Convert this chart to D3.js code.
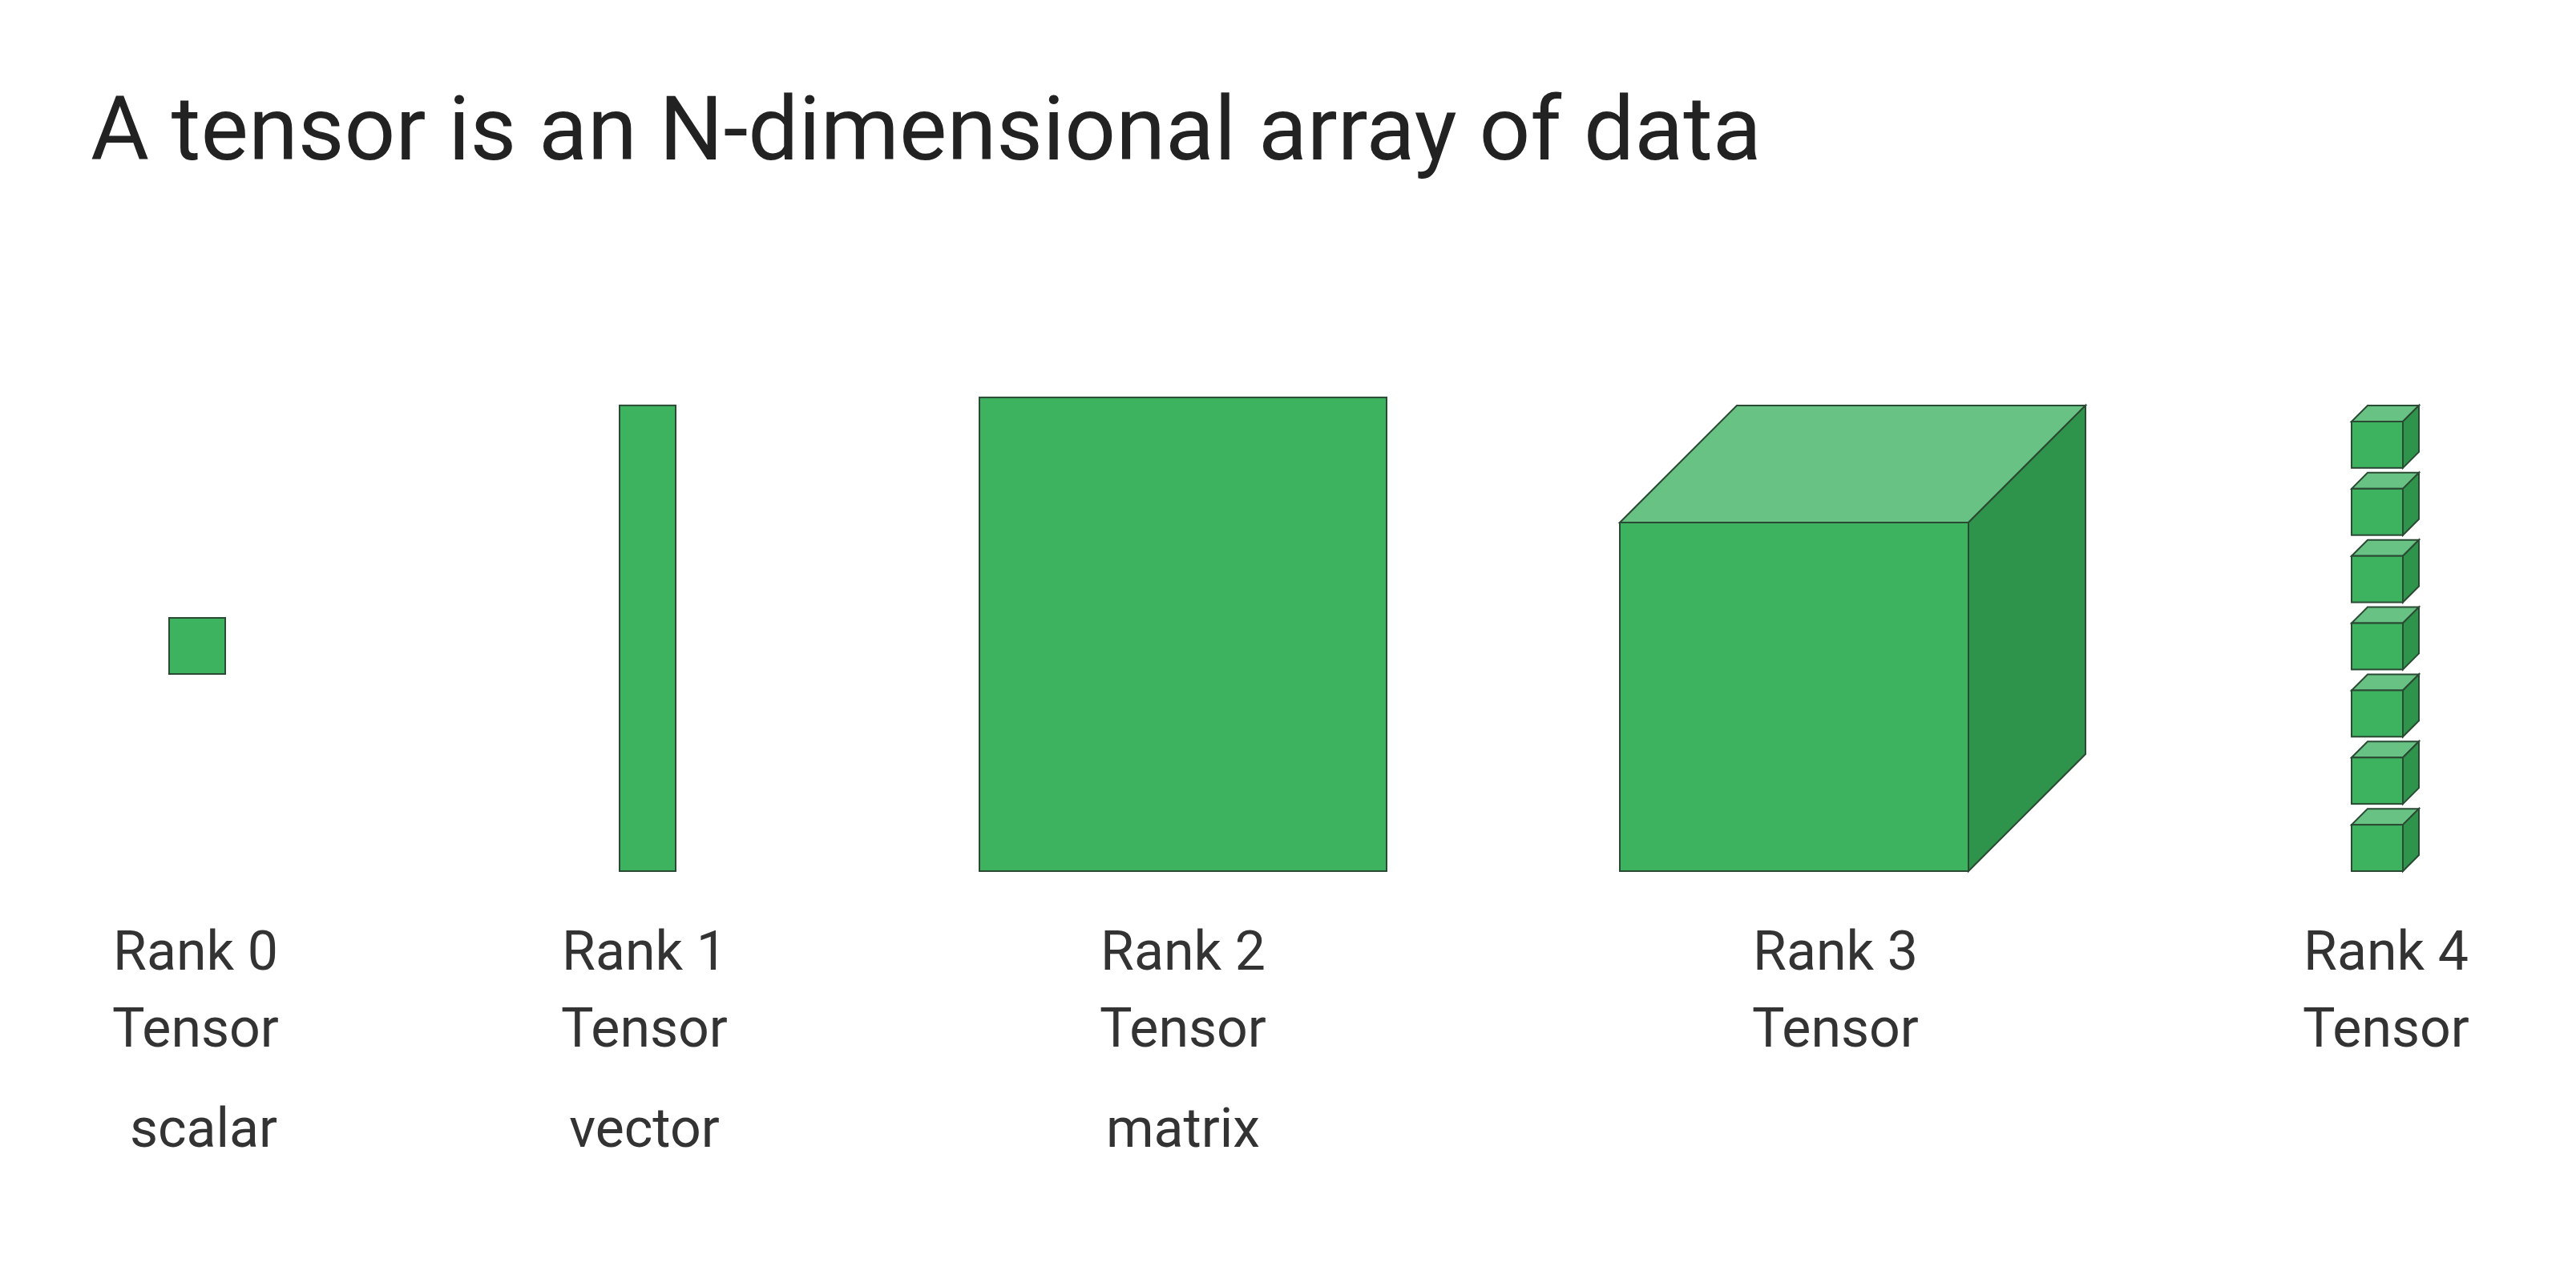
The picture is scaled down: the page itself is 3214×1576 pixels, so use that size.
<!DOCTYPE html>
<html><head><meta charset="utf-8">
<script src="https://cdn.jsdelivr.net/npm/d3@7"></script>
<style>body{margin:0;background:#fff}text{font-family:Roboto,"Open Sans",sans-serif}</style>
</head><body>
<script>
const title = "A tensor is an N-dimensional array of data";
const ranks = [0, 1, 2, 3, 4];
const rankNames = ["Rank 0", "Rank 1", "Rank 2", "Rank 3", "Rank 4"];
const aliases = ["scalar", "vector", "matrix", "", ""];
const stackCount = 7;

const W = 3214, H = 1576;
const green = "#3db360", light = "#67c284", dark = "#2f944b", edge = "#2b4a33";

const svg = d3.select("body").append("svg").attr("width", W).attr("height", H);

// column centres for each rank
const x = d3.scaleOrdinal().domain(ranks).range([244, 804, 1476, 2290, 2977]);
const y = d3.scaleLinear().domain([0, 1]).range([1087, 500]);

svg.append("text").attr("x", 113).attr("y", 199)
  .attr("font-size", 112).attr("fill", "#222").text(title);

const g = svg.append("g").attr("stroke", edge).attr("stroke-width", 2);

// rank 0 - scalar
g.append("rect").attr("x", 211).attr("y", 771).attr("width", 70).attr("height", 70).attr("fill", green);
// rank 1 - vector
g.append("rect").attr("x", 773).attr("y", y(0.99)).attr("width", 70).attr("height", y(0) - y(0.99)).attr("fill", green);
// rank 2 - matrix
g.append("rect").attr("x", 1222).attr("y", y(1.007)).attr("width", 508).attr("height", y(0) - y(1.007)).attr("fill", green);

function cube(x0, y0, w, h, d) {
  g.append("polygon").attr("fill", light)
    .attr("points", [[x0, y0], [x0 + d, y0 - d], [x0 + w + d, y0 - d], [x0 + w, y0]].join(" "));
  g.append("polygon").attr("fill", dark)
    .attr("points", [[x0 + w, y0], [x0 + w + d, y0 - d], [x0 + w + d, y0 + h - d], [x0 + w, y0 + h]].join(" "));
  g.append("rect").attr("x", x0).attr("y", y0).attr("width", w).attr("height", h).attr("fill", green);
}
// rank 3
cube(2021, 652, 435, 435, 146);
// rank 4 - stack of cubes
const pitch = (1093 - 506) / stackCount;
d3.range(stackCount).forEach(i => cube(2934, 526 + i * pitch, 64, pitch - 26, 20));

const lab = svg.append("g").attr("font-size", 68).attr("fill", "#333").attr("text-anchor", "middle");
ranks.forEach(r => {
  lab.append("text").attr("x", x(r)).attr("y", 1210).text(rankNames[r]);
  lab.append("text").attr("x", x(r)).attr("y", 1306).text("Tensor");
  if (aliases[r]) lab.append("text").attr("x", x(r) + (r === 0 ? 10 : 0)).attr("y", 1431).text(aliases[r]);
});
</script>
</body></html>
